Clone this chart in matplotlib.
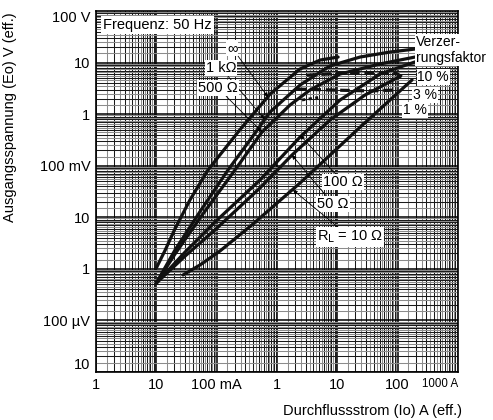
import numpy as np
import matplotlib
matplotlib.use('Agg')
import matplotlib.pyplot as plt

plt.rcParams['font.family'] = ['Liberation Sans', 'DejaVu Sans']

# ---- data (current in A, voltage in V) ----
inf_x = [0.01, 0.014, 0.02, 0.036, 0.072, 0.24, 0.77, 2.4, 5.2, 10.3]
inf_y = [0.00104, 0.0023, 0.0057, 0.0216, 0.083, 0.49, 2.46, 7.5, 11.2, 12.8]

r1k_x = [0.01, 0.0204, 0.053, 0.154, 0.357, 0.766, 2.41, 7.56, 23.8, 74.7, 194]
r1k_y = [0.00053, 0.00232, 0.0129, 0.0826, 0.315, 1.10, 3.67, 8.6, 12.8, 16.0, 18.3]

r500_x = [0.01, 0.0204, 0.053, 0.201, 0.565, 1.64, 3.52, 11.1, 51, 194]
r500_y = [0.00053, 0.00194, 0.0097, 0.0826, 0.45, 1.50, 2.94, 6.0, 9.4, 12.8]

r100_x = [0.01, 0.030, 0.094, 0.522, 2.41, 11.1, 51, 194]
r100_y = [0.00053, 0.00212, 0.0081, 0.0528, 0.36, 1.88, 6.0, 10.3]

r50_x = [0.01, 0.030, 0.094, 0.522, 1.77, 7.56, 28.8, 109]
r50_y = [0.00053, 0.00177, 0.0057, 0.037, 0.161, 0.77, 2.35, 5.4]

r10_x = [0.0277, 0.053, 0.1135, 0.40, 2.41, 21.2, 173]
r10_y = [0.00076, 0.00119, 0.00222, 0.0074, 0.0462, 0.493, 4.6]

d10_x = [3.14, 11.1, 34.8, 97.5, 132]
d10_y = [5.7, 6.2, 6.4, 6.1, 4.8]
d3_x = [2.15, 7.56, 34.8, 101]
d3_y = [3.07, 2.94, 2.82, 2.94]
d1_x = [2.6, 4.8]
d1_y = [1.88, 2.1]

x_ticks = [1e-3, 1e-2, 1e-1, 1, 10, 100, 1000]
x_labels = ['1', '10', '100 mA', '1', '10', '100', '1000 A']
y_ticks = [1e-5, 1e-4, 1e-3, 1e-2, 1e-1, 1, 10, 100]
y_labels = ['10', '100 µV', '1', '10', '100 mV', '1', '10', '100 V']

FS = 10.5

fig = plt.figure(figsize=(4.93, 4.20), dpi=100)
ax = fig.add_axes([96 / 493, 1 - 372 / 420, (458 - 96) / 493, (372 - 11) / 420])
ax.set_xscale('log')
ax.set_yscale('log')
ax.set_xlim(1e-3, 1e3)
ax.set_ylim(1e-5, 1e2)

# log-paper grid
def grid_lines(lo, hi, vertical):
    for d in range(lo, hi):
        base = 10.0 ** d
        for m in np.arange(1.0, 10.0, 0.5):
            v = m * base
            if m == 1.0:
                kw = dict(color='black', lw=1.1)
            elif float(m).is_integer():
                kw = dict(color='#1a1a1a', lw=0.75)
            else:
                kw = dict(color='#8c8c8c', lw=0.75)
            if vertical:
                ax.axvline(v, zorder=0, **kw)
            else:
                ax.axhline(v, zorder=0, **kw)

grid_lines(-3, 3, True)
grid_lines(-5, 2, False)

curve_kw = dict(color='#111111', lw=2.3, solid_capstyle='round', zorder=3)
for xs, ys in [(inf_x, inf_y), (r1k_x, r1k_y), (r500_x, r500_y),
               (r100_x, r100_y), (r50_x, r50_y), (r10_x, r10_y)]:
    ax.plot(xs, ys, **curve_kw)

ax.plot(d10_x, d10_y, color='#111111', lw=2.3, dashes=(3, 1.5), zorder=3)
ax.plot(d3_x, d3_y, color='#111111', lw=2.3, dashes=(3, 1.5), zorder=3)
ax.plot(d1_x, d1_y, color='#111111', lw=2.0, dashes=(1.2, 1.2), zorder=3)

ax.set_xticks(x_ticks)
ax.set_xticklabels(x_labels)
ax.set_yticks(y_ticks)
ax.set_yticklabels(y_labels)
ax.minorticks_off()
ax.tick_params(length=0, labelsize=FS)
ax.tick_params(axis='x', pad=4)
ax.tick_params(axis='y', pad=4)
xl = ax.get_xticklabels()
xl[-1].set_ha('right')
xl[-1].set_fontsize(8.3)
yl = ax.get_yticklabels()
yl[0].set_va('bottom')
yl[-1].set_va('top')

for s in ax.spines.values():
    s.set_linewidth(1.2)
    s.set_color('black')

fig.text(10 / 493, 1 - 117 / 420, 'Ausgangsspannung (Eo) V (eff.)', rotation=90,
         ha='center', va='center', fontsize=FS)
fig.text(462 / 493, 1 - 411 / 420, 'Durchflussstrom (Io) A (eff.)',
         ha='right', va='center', fontsize=FS)

box = dict(facecolor='white', edgecolor='none', pad=0.8)
ax.text(1.3e-3, 53, 'Frequenz: 50 Hz', fontsize=FS, ha='left', va='center',
        bbox=dict(facecolor='white', edgecolor='none', pad=1.5), zorder=5)

arrow = dict(arrowstyle='-|>', lw=0.6, color='black', mutation_scale=6,
             shrinkA=0, shrinkB=0)
labels = [
    ('∞', (0.71, 2.15), (0.18, 19.2)),
    ('1 kΩ', (0.62, 0.80), (0.118, 7.85)),
    ('500 Ω', (0.565, 0.45), (0.105, 3.2)),
    ('100 Ω', (2.41, 0.394), (12.4, 0.048)),
    ('50 Ω', (1.77, 0.161), (8.5, 0.018)),
    (r'R$_{\mathrm{L}}$ = 10 Ω', (1.84, 0.0338), (16.2, 0.00415)),
]
for txt, tip, pos in labels:
    ax.annotate(txt, xy=tip, xytext=pos, textcoords='data', fontsize=FS,
                ha='center', va='center', bbox=box, arrowprops=arrow, zorder=6,
                annotation_clip=False)

for txt, x, y in [('Verzer-', 201, 25), ('rungsfaktor', 201, 12.3),
                  ('10 %', 211, 5.25), ('3 %', 180, 2.35), ('1 %', 123, 1.2)]:
    ax.text(x, y, txt, fontsize=10, ha='left', va='center',
            bbox=dict(facecolor='white', edgecolor='none', pad=0.5),
            zorder=6, clip_on=False)

fig.savefig('out.png', dpi=100)
